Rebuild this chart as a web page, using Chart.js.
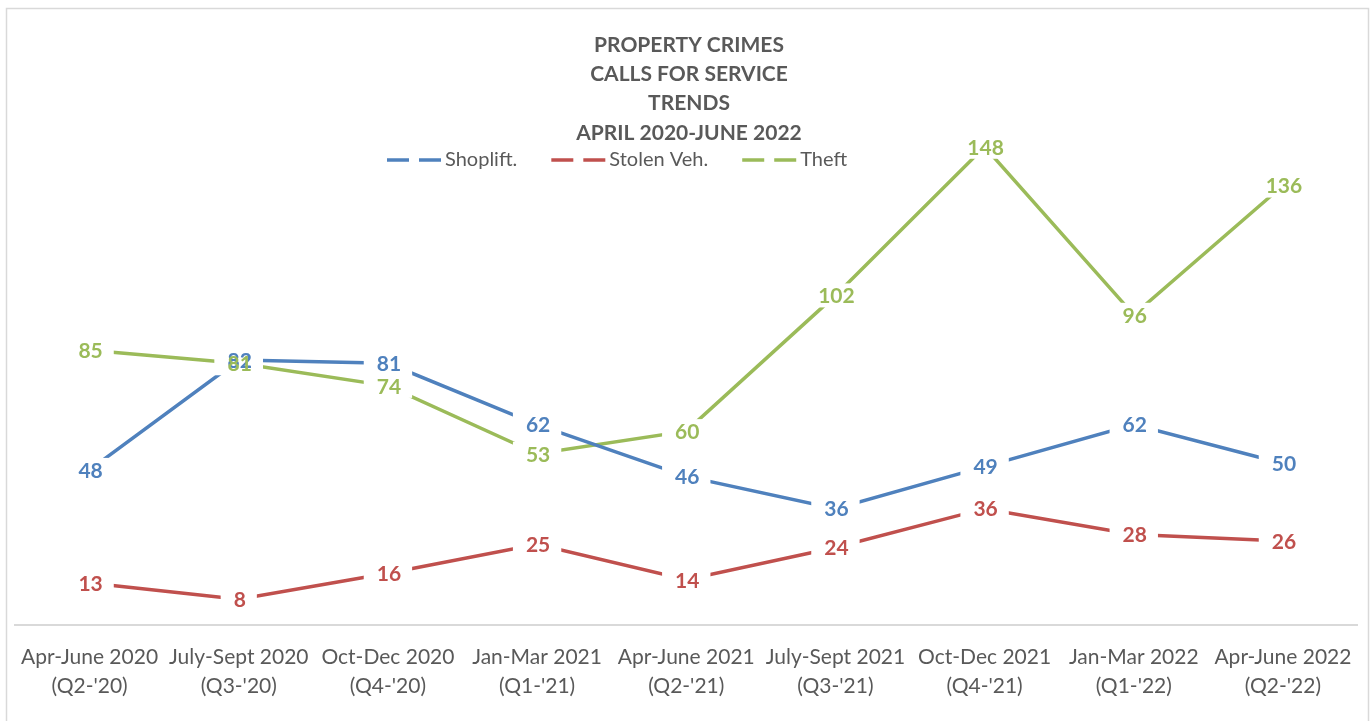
<!DOCTYPE html>
<html><head><meta charset="utf-8">
<script src="https://cdn.jsdelivr.net/npm/chart.js@4.4.0/dist/chart.umd.min.js"></script>
<style>html,body{margin:0;padding:0;background:#fff;overflow:hidden}</style>
</head><body>
<canvas id="c" width="1370" height="721" style="display:block;width:1370px;height:721px"></canvas>
<script>
const categories = [
  ["Apr-June 2020", "(Q2-'20)"],
  ["July-Sept 2020", "(Q3-'20)"],
  ["Oct-Dec 2020", "(Q4-'20)"],
  ["Jan-Mar 2021", "(Q1-'21)"],
  ["Apr-June 2021", "(Q2-'21)"],
  ["July-Sept 2021", "(Q3-'21)"],
  ["Oct-Dec 2021", "(Q4-'21)"],
  ["Jan-Mar 2022", "(Q1-'22)"],
  ["Apr-June 2022", "(Q2-'22)"]
];
const shoplift  = [48, 82, 81, 62, 46, 36, 49, 62, 50];
const stolenVeh = [13, 8, 16, 25, 14, 24, 36, 28, 26];
const theft     = [85, 81, 74, 53, 60, 102, 148, 96, 136];
const seriesNames = ["Shoplift.", "Stolen Veh.", "Theft"];
const titleLines = ["PROPERTY CRIMES", "CALLS FOR SERVICE", "TRENDS", "APRIL 2020-JUNE 2022"];
const yMin = 0, yMax = 160;

const colors = ["#4F81BD", "#C0504D", "#9BBB59"];
const textGrey = "#595959";
const FONT = "Lato, 'Open Sans', sans-serif";

const deco = {
  id: 'deco',
  beforeDraw(chart) {
    const ctx = chart.ctx;
    ctx.save();
    ctx.fillStyle = '#fff';
    ctx.fillRect(0, 0, chart.width, chart.height);
    ctx.strokeStyle = '#d9d9d9';
    ctx.lineWidth = 1.5;
    ctx.strokeRect(6.5, 8.5, chart.width - 8, chart.height);
    ctx.restore();
  },
  afterDatasetsDraw(chart) {
    const ctx = chart.ctx;
    ctx.save();
    ctx.font = "bold 21px " + FONT;
    ctx.textAlign = 'center';
    ctx.textBaseline = 'middle';
    const items = [];
    chart.data.datasets.forEach((ds, i) => {
      const meta = chart.getDatasetMeta(i);
      meta.data.forEach((pt, j) => {
        const txt = String(ds.data[j]);
        const w = ctx.measureText(txt).width;
        items.push({x: pt.x, y: pt.y, txt, w, color: ds.borderColor});
      });
    });
    ctx.fillStyle = '#fff';
    items.forEach(it => ctx.fillRect(it.x - it.w / 2 - 12, it.y - 12, it.w + 24, 24));
    items.forEach(it => { ctx.fillStyle = it.color; ctx.fillText(it.txt, it.x + 1, it.y + 1); });
    ctx.restore();
  },
  afterDraw(chart) {
    const ctx = chart.ctx;
    ctx.save();
    // title
    ctx.fillStyle = textGrey;
    ctx.font = "bold 21px " + FONT;
    ctx.textAlign = 'center';
    ctx.textBaseline = 'middle';
    titleLines.forEach((t, i) => ctx.fillText(t, 689, 45 + i * 29.3));
    // legend
    ctx.font = "20px " + FONT;
    ctx.textAlign = 'left';
    let x = 387;
    const y = 160;
    chart.data.datasets.forEach((ds, i) => {
      ctx.strokeStyle = ds.borderColor;
      ctx.lineWidth = 3.5;
      ctx.setLineDash([22, 10]);
      ctx.beginPath();
      ctx.moveTo(x, y);
      ctx.lineTo(x + 54, y);
      ctx.stroke();
      ctx.setLineDash([]);
      ctx.fillStyle = textGrey;
      ctx.fillText(ds.label, x + 58, y);
      x += 58 + ctx.measureText(ds.label).width + 34;
    });
    ctx.restore();
  }
};

new Chart(document.getElementById('c'), {
  type: 'line',
  data: {
    labels: categories,
    datasets: [
      {label: seriesNames[0], data: shoplift, borderColor: colors[0], backgroundColor: colors[0]},
      {label: seriesNames[1], data: stolenVeh, borderColor: colors[1], backgroundColor: colors[1]},
      {label: seriesNames[2], data: theft, borderColor: colors[2], backgroundColor: colors[2]}
    ].map(d => Object.assign(d, {borderWidth: 3.5, pointRadius: 0, pointHoverRadius: 0, tension: 0, fill: false}))
  },
  options: {
    responsive: false,
    animation: false,
    devicePixelRatio: 1,
    layout: {padding: {left: 15, right: 10, top: 108, bottom: 0}},
    plugins: {legend: {display: false}, title: {display: false}, tooltip: {enabled: false}},
    scales: {
      x: {
        offset: true,
        grid: {display: false, drawTicks: false},
        border: {display: true, color: '#d9d9d9', width: 2},
        ticks: {color: textGrey, font: {family: FONT, size: 21, lineHeight: 1.38}, padding: 18, maxRotation: 0, autoSkip: false},
        afterFit(s) { s.height = 96; }
      },
      y: {
        display: false,
        min: yMin,
        max: yMax
      }
    }
  },
  plugins: [deco]
});
</script>
</body></html>
